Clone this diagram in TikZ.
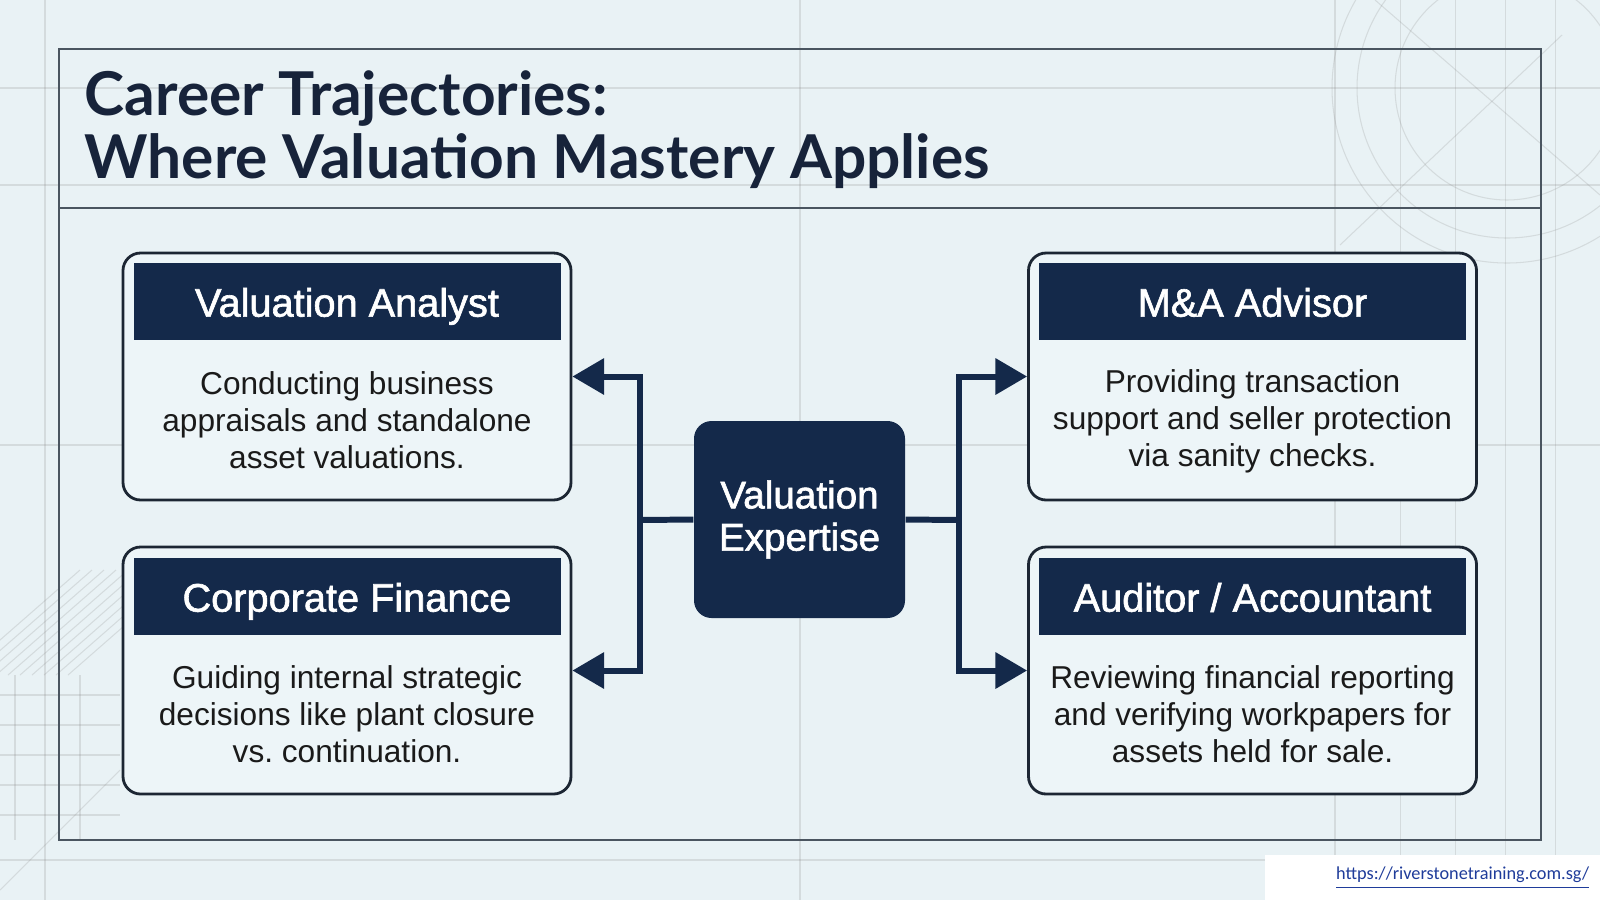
\documentclass[tikz,border=0pt]{standalone}
\usepackage{fontspec}
\setmainfont{Liberation Sans}
\newfontfamily\titlefont{Lato}
\newfontfamily\headfont[FakeBold=1.6]{Liberation Sans}
\newfontfamily\urlfont{Carlito}
\usetikzlibrary{arrows.meta}
\definecolor{navy}{HTML}{14294A}
\definecolor{bgcol}{HTML}{E9F2F5}
\definecolor{cardfill}{HTML}{EDF5F8}
\definecolor{cardline}{HTML}{1C2633}
\definecolor{framecol}{HTML}{4A5560}
\definecolor{textdark}{HTML}{1A1A1A}
\definecolor{titlecol}{HTML}{17233A}
\definecolor{urlcol}{HTML}{1F3C9A}

\begin{document}
\begin{tikzpicture}[y=-1cm,
  card/.style={draw=cardline, line width=0.8pt, fill=cardfill, rounded corners=5pt,
    minimum width=4.48cm, minimum height=2.47cm},
  head/.style={fill=navy, text=white, minimum width=4.27cm, minimum height=0.77cm,
    inner sep=0pt, text height=9.8pt, text depth=1.2pt, font=\headfont\fontsize{11.3}{13}\selectfont},
  body/.style={align=center, text=textdark, inner sep=0pt, font=\fontsize{9}{10.5}\selectfont},
  link/.style={draw=navy, line width=1.7pt, line join=miter},
  arr/.style={link, -{Triangle[length=9pt,width=10pt]}},
  deco/.style={draw=gray, line width=0.3pt, opacity=0.2}]

\fill[bgcol] (0,0) rectangle (16,9);
\useasboundingbox (0,0) rectangle (16,9);

% faint construction lines behind
\foreach \x in {0.45,8.00,13.35,14.00,14.55,15.05,15.55}
  \draw[deco] (\x,0) -- (\x,9);
\foreach \y in {0.88,1.85,4.45,8.60}
  \draw[deco] (0,\y) -- (16,\y);
\draw[deco] (15.07,0.88) circle (1.12);
\draw[deco] (15.07,0.88) circle (1.50);
\draw[deco] (15.07,0.88) circle (1.75);
\draw[deco] (13.75,0) -- (16,1.95);
\draw[deco] (15.62,0.35) -- (13.40,2.45);
\foreach \i in {0,...,9}
  \draw[deco] (0.12*\i-0.4,6.75) -- (0.12*\i+0.8,5.70);
\foreach \y in {6.95,7.25,7.55,7.85,8.15}
  \draw[deco] (0,\y) -- (1.20,\y);
\foreach \x in {0.15,0.80}
  \draw[deco] (\x,6.75) -- (\x,8.40);
\draw[deco] (0,8.90) -- (1.20,7.70);

% frame and title
\draw[framecol, line width=0.8pt] (0.59,0.49) rectangle (15.41,8.40);
\draw[framecol, line width=0.8pt] (0.59,2.08) -- (15.41,2.08);
\node[anchor=base west, text=titlecol, inner sep=0pt, font=\titlefont\bfseries\fontsize{17.2}{19}\selectfont]
  (t1) at (0.84,1.15) {Career Trajectories:};
\node[anchor=base west, text=titlecol, inner sep=0pt, font=\titlefont\bfseries\fontsize{17.2}{19}\selectfont]
  (t2) at (0.84,1.785) {Where Valuation Mastery Applies};

% centre
\node[fill=navy, rounded corners=5pt, minimum width=2.11cm, minimum height=1.97cm, text=white,
  align=center, font=\headfont\fontsize{11}{12}\selectfont] (ctr) at (7.995,5.195) {Valuation\\Expertise};

% cards
\node[card] (va) at (3.47,3.765) {};
\node[head] (vah) at (3.47,3.015) {Valuation Analyst};
\node[body] (vab) at (3.47,4.20) {Conducting business\\appraisals and standalone\\asset valuations.};

\node[card] (cf) at (3.47,6.705) {};
\node[head] (cfh) at (3.47,5.965) {Corporate Finance};
\node[body] (cfb) at (3.47,7.14) {Guiding internal strategic\\decisions like plant closure\\vs.\ continuation.};

\node[card] (ma) at (12.525,3.765) {};
\node[head] (mah) at (12.525,3.015) {M\&A Advisor};
\node[body] (mab) at (12.525,4.21) {Providing transaction\\support and seller protection\\via sanity checks.};

\node[card] (au) at (12.525,6.705) {};
\node[head] (auh) at (12.525,5.965) {Auditor / Accountant};
\node[body] (aub) at (12.525,7.14) {Reviewing financial reporting\\and verifying workpapers for\\assets held for sale.};

% connectors
\coordinate (jl) at (6.40,5.20);
\coordinate (jr) at (9.59,5.20);
\draw[link] (ctr.west) -- (jl);
\draw[link] (ctr.east) -- (jr);
\draw[arr] (jl) |- (va.east);
\draw[arr] (jl) |- (cf.east);
\draw[arr] (jr) |- (ma.west);
\draw[arr] (jr) |- (au.west);

% link in the corner
\fill[white] (12.65,8.55) rectangle (16,9);
\node[anchor=east, text=urlcol, inner sep=0pt, font=\urlfont\fontsize{5.2}{7}\selectfont]
  (url) at (15.90,8.78) {\underline{https://riverstonetraining.com.sg/}};
\end{tikzpicture}
\end{document}
